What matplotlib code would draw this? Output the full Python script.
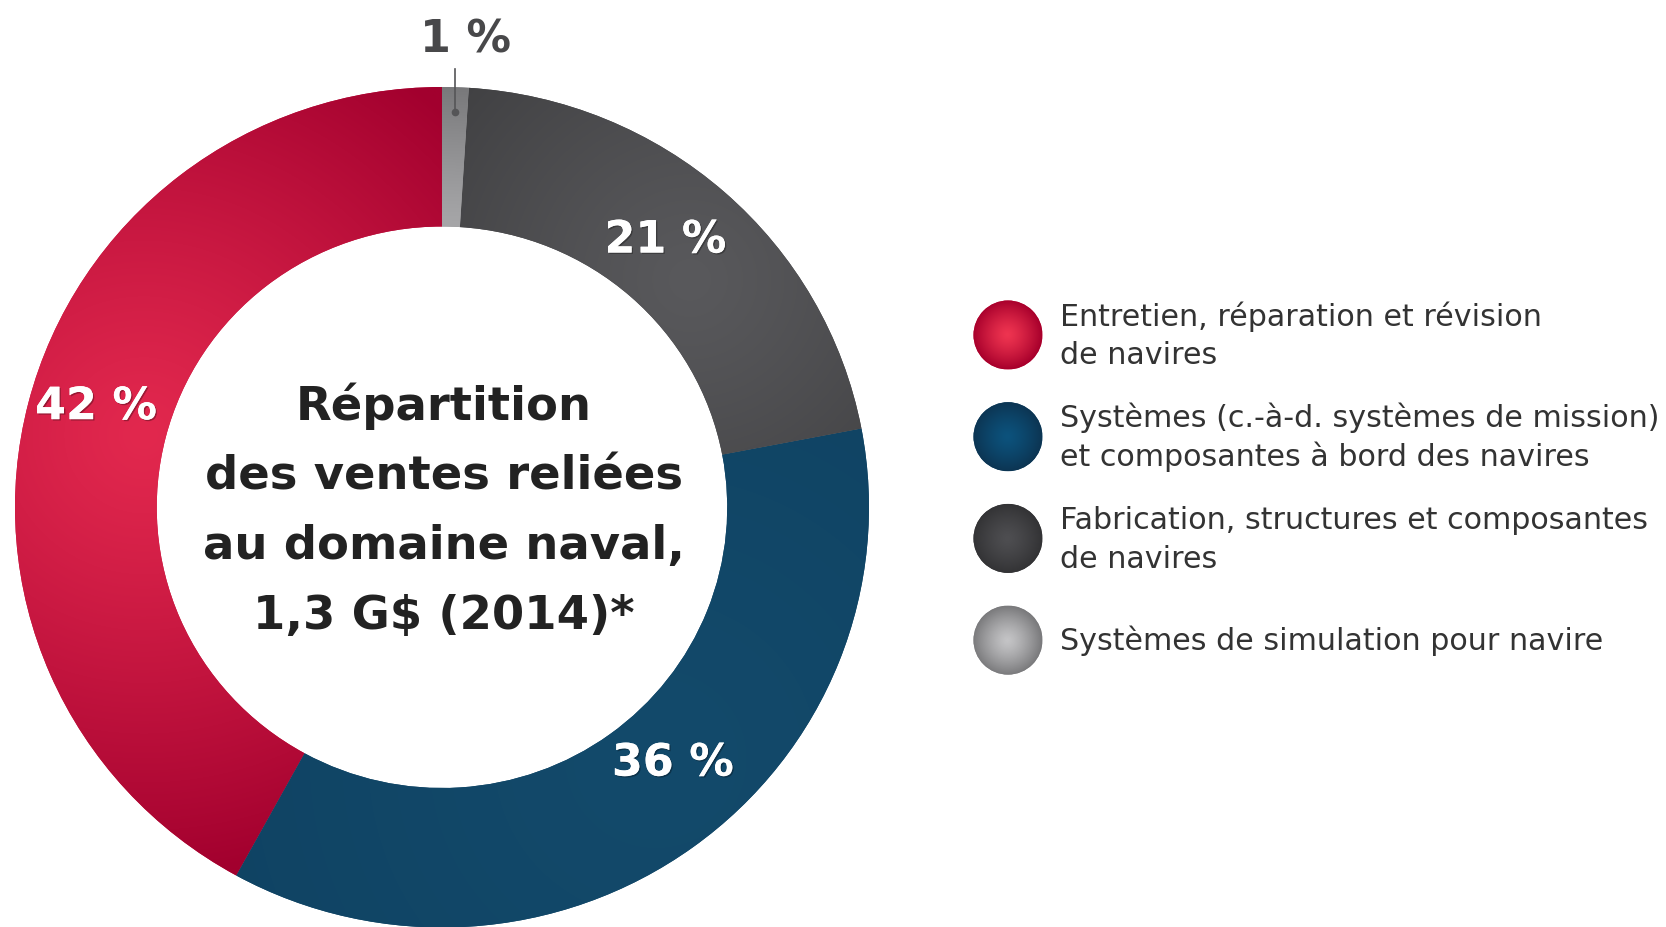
import numpy as np
import matplotlib.pyplot as plt
from matplotlib.patches import Circle
from matplotlib.colors import to_rgb
import matplotlib.patheffects as pe

# ===== Data =====
shares = [42, 36, 21, 1]
share_labels = ['42 %', '36 %', '21 %', '1 %']
categories = [
    'Entretien, réparation et révision\nde navires',
    'Systèmes (c.-à-d. systèmes de mission)\net composantes à bord des navires',
    'Fabrication, structures et composantes\nde navires',
    'Systèmes de simulation pour navire',
]
center_title = ['Répartition', 'des ventes reliées', 'au domaine naval,', '1,3 G$ (2014)*']

# ===== Style =====
flat_colors = ['#C3133D', '#114667', '#444446', '#8C8C8E']
# (bright, dark, spot, d0, falloff) for the ring shading
ring_shade = [
    ('#E2284E', '#A2002E', (-0.70, 0.17), 0.0, 1.05),
    ('#134A6B', '#0F4262', (0.50, -0.60), 0.0, 1.20),
    ('#59595C', '#3F3F41', (0.58, 0.54), 0.0, 0.75),
    ('#A6A6A8', '#78787A', (0.0, 0.0), 0.668, 0.332),
]
# (centre, rim) for the legend balls
ball_shade = [
    ('#EE3450', '#A8002C'),
    ('#0C527C', '#0D3553'),
    ('#4E4E51', '#333335'),
    ('#C4C4C6', '#7A7A7C'),
]
label_angle_offset = [-2.6, 6.0, 2.3]
label_radius = [0.847, 0.808, 0.83]
W, H = 1666, 927


def mix(c1, c2, t):
    a = np.array(to_rgb(c1))
    b = np.array(to_rgb(c2))
    return a * (1 - t[..., None]) + b * t[..., None]


fig = plt.figure(figsize=(W / 100, H / 100), dpi=100)

# ===== Donut =====
ax = fig.add_axes([0, 0, 1, 1])
wedges, _ = ax.pie(shares, colors=flat_colors, startangle=90, counterclock=True,
                   radius=1, wedgeprops=dict(width=0.332, linewidth=0))

g = np.linspace(-1, 1, 700)
X, Y = np.meshgrid(g, g)
for w, (bright, dark, spot, d0, fall) in zip(wedges, ring_shade):
    d = np.hypot(X - spot[0], Y - spot[1])
    t = np.clip((d - d0) / fall, 0, 1) ** 1.2
    im = ax.imshow(mix(bright, dark, t), extent=(-1, 1, -1, 1), origin='lower',
                   aspect='auto', interpolation='bilinear', zorder=w.get_zorder() + 0.01)
    im.set_clip_path(w)

for i in range(3):
    w = wedges[i]
    th = np.deg2rad((w.theta1 + w.theta2) / 2 + label_angle_offset[i])
    r = label_radius[i]
    ax.annotate(share_labels[i], (r * np.cos(th), r * np.sin(th)),
                xytext=(0, -11.5), textcoords='offset points',
                ha='center', va='baseline', fontsize=32, fontweight='bold',
                color='white', zorder=5,
                path_effects=[pe.withSimplePatchShadow(offset=(1, -1), shadow_rgbFace='black',
                                                       alpha=0.3), pe.Normal()])

# petite tranche : étiquette à l'extérieur avec trait de rappel
w = wedges[3]
th = np.deg2rad((w.theta1 + w.theta2) / 2)
xd, yd = 0.94 * np.cos(th), 0.94 * np.sin(th)
ax.plot([xd, xd], [yd, 1.043], color='#555557', lw=1.2, zorder=6, clip_on=False)
ax.plot([xd], [yd], 'o', color='#555557', ms=4.5, zorder=6, clip_on=False)
ax.text(xd + 0.025, 1.083, share_labels[3], ha='center', va='baseline', fontsize=32,
        fontweight='bold', color='#48484A', zorder=6)

ax.set_aspect('auto')
ax.set_xlim(-1.0351, 2.8665)
ax.set_ylim(-0.9988, 1.2070)
ax.axis('off')

# ===== Overlay (pixels) =====
ov = fig.add_axes([0, 0, 1, 1])
ov.set_xlim(0, W)
ov.set_ylim(H, 0)
ov.axis('off')
ov.patch.set_alpha(0)

for i, line in enumerate(center_title):
    ov.text(444, 420 + i * 69.5, line, ha='center', va='baseline', fontsize=33.5,
            fontweight='bold', color='#222222')

for i, (lab, (c_in, c_out)) in enumerate(zip(categories, ball_shade)):
    cy = 335 + i * 101.7
    r = 34.5
    circ = Circle((1008, cy), r, facecolor=flat_colors[i], edgecolor='none')
    ov.add_patch(circ)
    gx = np.linspace(-1, 1, 200)
    GX, GY = np.meshgrid(gx, gx)
    tt = np.clip(np.hypot(GX, GY), 0, 1) ** 1.3
    bim = ov.imshow(mix(c_in, c_out, tt), extent=(1008 - r, 1008 + r, cy + r, cy - r),
                    aspect='auto', interpolation='bilinear', zorder=3)
    bim.set_clip_path(circ)
    lines = lab.split('\n')
    base0 = cy + 10 - (len(lines) - 1) * 39 / 2
    for j, ln in enumerate(lines):
        ov.text(1060, base0 + j * 39, ln, ha='left', va='baseline', fontsize=21.7,
                color='#333333')

ov.set_xlim(0, W)
ov.set_ylim(H, 0)

fig.savefig('out.png', dpi=100)
